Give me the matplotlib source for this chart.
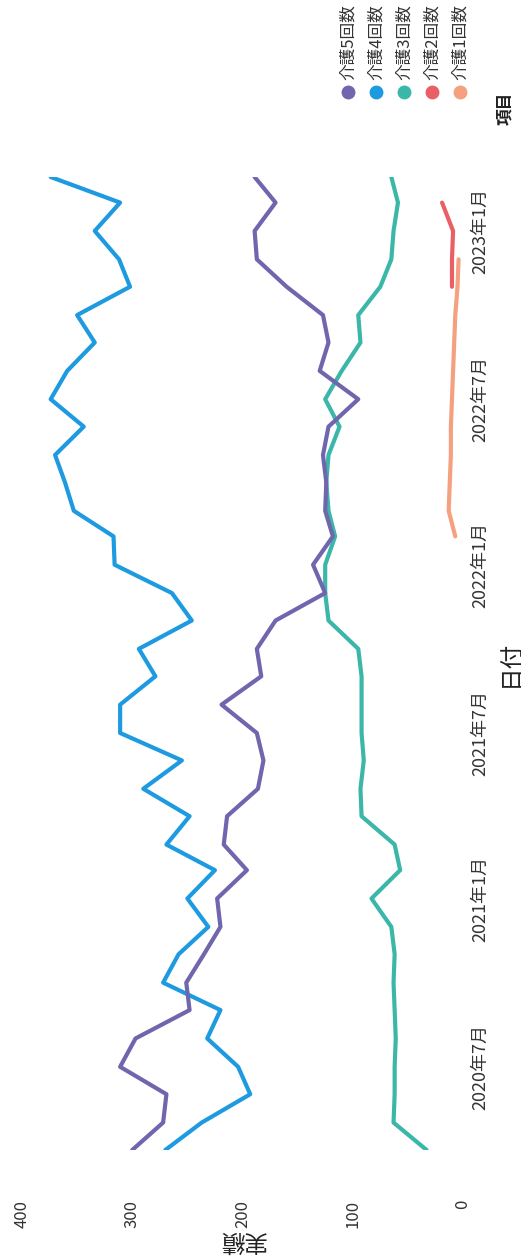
import matplotlib
matplotlib.use("Agg")
import matplotlib.pyplot as plt
import matplotlib.dates as mdates
from matplotlib.lines import Line2D
import pandas as pd

plt.rcParams['font.family'] = ['Noto Sans CJK JP', 'DejaVu Sans']

# monthly dates, 2020-04 .. 2023-03
months = pd.date_range("2020-04-01", "2023-03-01", freq="MS")

kaigo4 = [270, 237, 193, 204, 232, 220, 272, 258, 231, 250, 225, 269,
          248, 290, 255, 311, 311, 279, 294, 246, 264, 316, 317, 353,
          361, 370, 344, 374, 359, 334, 350, 302, 312, 334, 311, 374]
kaigo5 = [300, 272, 269, 311, 297, 248, 251, 235, 220, 223, 196, 217,
          214, 186, 181, 187, 219, 183, 187, 170, 125, 136, 118, 125,
          124, 127, 122, 95, 130, 122, 127, 160, 187, 189, 170, 189]
kaigo3 = [33, 63, 62, 62, 61, 62, 63, 62, 65, 83, 57, 62,
          92, 93, 90, 92, 92, 92, 95, 122, 125, 125, 116, 122,
          124, 122, 112, 125, 110, 93, 95, 75, 65, 63, 59, 65]
# 介護1回数: 2022-02 .. 2022-12
kaigo1_months = months[22:33]
kaigo1 = [7, 13, 12, 11, 11, 10, 9, 8, 7, 5, 4]
# 介護2回数: 2022-11 .. 2023-02
kaigo2_months = months[31:35]
kaigo2 = [10, 10, 9, 19]

labels = ["介護1回数", "介護2回数", "介護3回数", "介護4回数", "介護5回数"]
colors = ["#F5A07F", "#EA5F66", "#3BB7A9", "#1E9BE0", "#6F66AE"]

W, H = 521, 1258
fig = plt.figure(figsize=(W / 100, H / 100), dpi=100)
# chart is drawn turned by 90 degrees: values run right-to-left, dates upward
ax = fig.add_axes([22 / W, 1 - 1150 / H, 441 / W, 973 / H])

series = [(kaigo1_months, kaigo1), (kaigo2_months, kaigo2),
          (months, kaigo3), (months, kaigo4), (months, kaigo5)]
for (d, v), c in zip(series, colors):
    ax.plot(v, d, color=c, lw=3, solid_capstyle='round', solid_joinstyle='round')

ax.set_xlim(400, 0)
ax.set_ylim(months[0], months[-1])
ax.set_xticks([0, 100, 200, 300, 400])
ax.set_xticklabels(["0", "100", "200", "300", "400"], rotation=90, fontsize=12,
                   color="#333333", va="top", ha="center")
ticks = pd.to_datetime(["2020-07-01", "2021-01-01", "2021-07-01",
                        "2022-01-01", "2022-07-01", "2023-01-01"])
tick_labels = ["2020年7月", "2021年1月", "2021年7月", "2022年1月", "2022年7月", "2023年1月"]
ax.yaxis.tick_right()
ax.set_yticks(mdates.date2num(ticks))
ax.set_yticklabels(tick_labels, rotation=90, fontsize=13, color="#333333", va="center")
ax.tick_params(axis='x', length=0, pad=36)
ax.tick_params(axis='y', length=0, pad=6)
for s in ax.spines.values():
    s.set_visible(False)

fig.text(510 / W, 1 - 663 / H, "日付", rotation=90, fontsize=17, color="#222222",
         ha="center", va="center")
fig.text(242 / W, 1 - 1240 / H, "実績", rotation=180, fontsize=17, color="#222222",
         ha="center", va="center")

# legend (turned with the chart)
fig.text(505 / W, 1 - 108 / H, "項目", rotation=90, fontsize=12, fontweight="bold",
         color="#222222", ha="center", va="center")
for k, (lab, c) in enumerate(zip(labels, colors)):
    px = 460 - k * 28
    fig.add_artist(Line2D([px / W], [1 - 92 / H], marker='o', ms=9, color=c,
                          transform=fig.transFigure))
    fig.text(px / W, 1 - 80 / H, lab, rotation=90, fontsize=12, color="#333333",
             ha="center", va="bottom")

fig.savefig("out.png", dpi=100)
